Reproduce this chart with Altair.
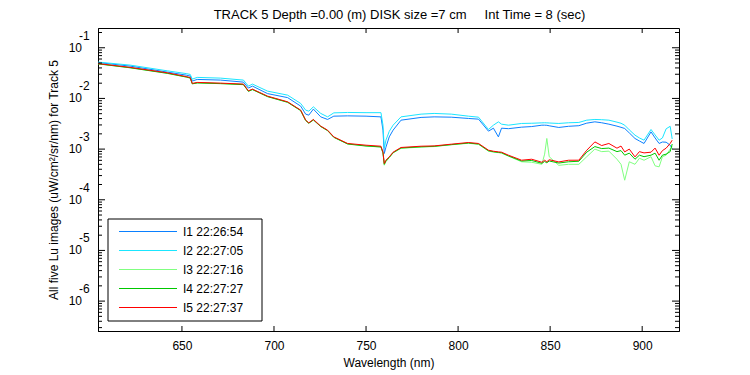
import altair as alt
import pandas as pd

FONT = "Liberation Sans"

# Wavelength samples (nm)
wavelength = [604.4, 621.8, 642.0, 652.3, 654.5, 655.6, 658.3, 670.9, 683.4, 686.1,
              688.3, 696.5, 707.4, 714.5, 717.2, 718.9, 721.4, 725.4, 729.1, 732.5,
              740.0, 750.0, 758.1, 759.2, 759.9, 760.8, 762.6, 764.7, 769.0, 779.9,
              787.0, 796.3, 805.6, 811.1, 816.5, 819.2, 821.9, 823.6, 827.4, 834.5,
              840.0, 845.5, 847.0, 848.2, 849.5, 854.7, 860.0, 865.6, 869.9, 874.3,
              878.0, 881.9, 886.3, 888.5, 890.5, 893.0, 896.1, 898.5, 901.0, 904.8,
              907.0, 909.2, 911.0, 913.0, 915.2, 916.3]

series_names = ["I1 22:26:54", "I2 22:27:05", "I3 22:27:16", "I4 22:27:27", "I5 22:27:37"]
series_colors = ["#0a80ff", "#1ae6ff", "#80ff80", "#00c800", "#ff0000"]

# log10 of radiance
i1_log10 = [-1.292, -1.362, -1.480, -1.540, -1.559, -1.658, -1.625, -1.638, -1.678, -1.796,
            -1.757, -1.905, -1.984, -2.152, -2.310, -2.330, -2.211, -2.364, -2.415, -2.350,
            -2.344, -2.350, -2.364, -2.626, -3.087, -2.962, -2.759, -2.626, -2.429, -2.375,
            -2.364, -2.370, -2.395, -2.409, -2.646, -2.587, -2.759, -2.587, -2.597, -2.567,
            -2.555, -2.528, -2.528, -2.530, -2.540, -2.573, -2.550, -2.538, -2.488, -2.462,
            -2.480, -2.508, -2.547, -2.570, -2.593, -2.680, -2.791, -2.840, -2.889, -2.660,
            -2.780, -2.889, -2.860, -2.864, -2.923, -2.988]
i2_log10 = [-1.283, -1.342, -1.455, -1.510, -1.526, -1.619, -1.585, -1.599, -1.638, -1.757,
            -1.717, -1.856, -1.935, -2.099, -2.231, -2.251, -2.166, -2.296, -2.364, -2.285,
            -2.277, -2.281, -2.281, -2.528, -2.982, -2.824, -2.650, -2.528, -2.364, -2.310,
            -2.296, -2.310, -2.350, -2.370, -2.613, -2.528, -2.462, -2.508, -2.528, -2.494,
            -2.490, -2.482, -2.480, -2.482, -2.485, -2.494, -2.480, -2.474, -2.429, -2.415,
            -2.420, -2.429, -2.468, -2.490, -2.528, -2.620, -2.725, -2.780, -2.824, -2.613,
            -2.720, -2.824, -2.780, -2.600, -2.550, -2.800]
i3_log10 = [-1.315, -1.392, -1.500, -1.575, -1.595, -1.710, -1.690, -1.703, -1.722, -1.855,
            -1.820, -1.960, -2.072, -2.236, -2.432, -2.486, -2.420, -2.552, -2.632, -2.765,
            -2.895, -2.935, -2.965, -3.080, -3.318, -3.250, -3.170, -3.075, -2.985, -2.960,
            -2.950, -2.915, -2.885, -2.905, -3.040, -3.060, -3.070, -3.080, -3.140, -3.250,
            -3.260, -3.300, -3.100, -2.790, -3.150, -3.320, -3.300, -3.300, -3.150, -3.000,
            -3.050, -3.040, -3.200, -3.300, -3.614, -3.250, -3.300, -3.180, -3.220, -3.150,
            -3.330, -3.350, -3.150, -3.120, -3.000, -2.950]
i4_log10 = [-1.318, -1.395, -1.505, -1.578, -1.598, -1.712, -1.695, -1.708, -1.728, -1.860,
            -1.826, -1.965, -2.077, -2.240, -2.435, -2.490, -2.425, -2.555, -2.635, -2.768,
            -2.900, -2.940, -2.955, -3.070, -3.300, -3.230, -3.165, -3.070, -2.978, -2.955,
            -2.945, -2.912, -2.880, -2.900, -3.032, -3.052, -3.065, -3.072, -3.135, -3.235,
            -3.225, -3.280, -3.245, -3.270, -3.235, -3.275, -3.250, -3.240, -3.060, -2.950,
            -2.990, -2.980, -3.050, -3.030, -3.120, -3.080, -3.200, -3.120, -3.150, -3.120,
            -3.080, -3.220, -3.120, -3.100, -3.050, -2.900]
i5_log10 = [-1.312, -1.387, -1.494, -1.569, -1.589, -1.704, -1.684, -1.698, -1.717, -1.850,
            -1.816, -1.955, -2.067, -2.231, -2.429, -2.482, -2.415, -2.547, -2.626, -2.759,
            -2.889, -2.923, -2.943, -3.061, -3.285, -3.219, -3.154, -3.061, -2.968, -2.943,
            -2.937, -2.903, -2.870, -2.889, -3.022, -3.042, -3.055, -3.061, -3.121, -3.219,
            -3.200, -3.260, -3.220, -3.250, -3.210, -3.253, -3.220, -3.219, -3.022, -2.858,
            -2.930, -2.889, -2.982, -2.940, -3.055, -3.000, -3.154, -3.050, -3.075, -3.061,
            -2.980, -3.121, -3.030, -2.982, -2.889, -2.824]

x_ticks = [650, 700, 750, 800, 850, 900]
y_major = [1e-1, 1e-2, 1e-3, 1e-4, 1e-5, 1e-6]
y_exponents = ["-1", "-2", "-3", "-4", "-5", "-6"]
x_domain = [604.4, 920.0]
y_domain = [10 ** -6.59, 10 ** -0.61]

title_text = "TRACK 5 Depth =0.00 (m) DISK size =7 cm\u00a0\u00a0\u00a0\u00a0\u00a0Int Time = 8 (sec)"
y_title = "All five Lu images (uW/cm\u00b2/sr/nm) for Track 5"

rows = []
for name, logs in zip(series_names, [i1_log10, i2_log10, i3_log10, i4_log10, i5_log10]):
    for w, v in zip(wavelength, logs):
        rows.append({"series": name, "wl": w, "val": 10 ** v})
df = pd.DataFrame(rows)

y_minor = [m * 10 ** k for k in range(-7, 0) for m in range(2, 10)
           if y_domain[0] <= m * 10 ** k <= y_domain[1]]

W, H = 581, 303

xs = alt.Scale(domain=x_domain, nice=False, zero=False)
ys = alt.Scale(type="log", domain=y_domain, nice=False)
cs = alt.Scale(domain=series_names, range=series_colors)

X = alt.X("wl:Q", scale=xs,
          axis=alt.Axis(values=x_ticks, ticks=False, tickSize=0, grid=False,
                        labelPadding=9, labelFontSize=12, labelFont=FONT, labelColor="black",
                        labelFlush=False,
                        title="Wavelength (nm)", titleFont=FONT, titleFontSize=12,
                        titleFontWeight="normal", titleColor="black", titlePadding=6,
                        domainColor="black"))
Y = alt.Y("val:Q", scale=ys,
          axis=alt.Axis(labels=False, ticks=False, tickSize=0, grid=False,
                        title=y_title, titleFont=FONT, titleFontSize=12,
                        titleFontWeight="normal", titleColor="black", titlePadding=38,
                        domainColor="black"))
Xs = alt.X("wl:Q", scale=xs)
Ys = alt.Y("val:Q", scale=ys)

lines = [
    alt.Chart(df).transform_filter(alt.datum.series == name)
    .mark_line(strokeWidth=1)
    .encode(x=X, y=Y, color=alt.Color("series:N", scale=cs, legend=None))
    for name in series_names
]

xt = pd.DataFrame({"wl": x_ticks})
ymaj = pd.DataFrame({"val": y_major, "exp": y_exponents, "base": ["10"] * len(y_major)})
ymin = pd.DataFrame({"val": y_minor})

tick_layers = [
    alt.Chart(xt).mark_rule(color="black", strokeWidth=1).encode(x=Xs, y=alt.value(H), y2=alt.value(H - 5)),
    alt.Chart(xt).mark_rule(color="black", strokeWidth=1).encode(x=Xs, y=alt.value(0), y2=alt.value(5)),
    alt.Chart(ymaj).mark_rule(color="black", strokeWidth=1).encode(y=Ys, x=alt.value(0), x2=alt.value(7)),
    alt.Chart(ymaj).mark_rule(color="black", strokeWidth=1).encode(y=Ys, x=alt.value(W), x2=alt.value(W - 7)),
    alt.Chart(ymin).mark_rule(color="black", strokeWidth=1).encode(y=Ys, x=alt.value(0), x2=alt.value(4)),
    alt.Chart(ymin).mark_rule(color="black", strokeWidth=1).encode(y=Ys, x=alt.value(W), x2=alt.value(W - 4)),
]

label_layers = [
    alt.Chart(ymaj).mark_text(align="right", baseline="middle", fontSize=12, font=FONT, color="black")
    .encode(y=Ys, x=alt.value(-16), text="base:N"),
    alt.Chart(ymaj).mark_text(align="left", baseline="middle", fontSize=12, font=FONT, color="black", dy=-12)
    .encode(y=Ys, x=alt.value(-19), text="exp:N"),
]

main = alt.layer(*lines, *tick_layers, *label_layers)

leg_df = pd.DataFrame({"series": series_names})
leg_y = alt.Y("series:N", scale=alt.Scale(type="point", domain=series_names, range=[203.5, 279.5], padding=0),
              axis=None)
box = alt.Chart(alt.Data(values=[{}])).mark_rect(fill="white", stroke="black", strokeWidth=1).encode(
    x=alt.value(10), x2=alt.value(164), y=alt.value(191), y2=alt.value(293))
leg_lines = alt.Chart(leg_df).mark_rule(strokeWidth=1).encode(
    y=leg_y, x=alt.value(21), x2=alt.value(79),
    color=alt.Color("series:N", scale=cs, legend=None))
leg_text = alt.Chart(leg_df).mark_text(align="left", baseline="middle", fontSize=12, font=FONT, color="black").encode(
    y=leg_y, x=alt.value(85), text="series:N")
title_mark = alt.Chart(alt.Data(values=[{"t": title_text}])).mark_text(
    align="center", baseline="alphabetic", fontSize=13, font=FONT, color="black").encode(
    x=alt.value(W / 2 + 11), y=alt.value(-9), text="t:N")
legend = alt.layer(box, leg_lines, leg_text, title_mark)

chart = (
    alt.layer(main, legend)
    .resolve_scale(y="independent")
    .properties(
        width=W, height=H,
        padding={"left": 90, "top": 20, "right": 60, "bottom": 40},
        autosize="none",
        background="white",
    )
    .configure_view(stroke="black", strokeWidth=1)
)

chart.save("out.html", embed_options={"renderer": "svg", "actions": False})
